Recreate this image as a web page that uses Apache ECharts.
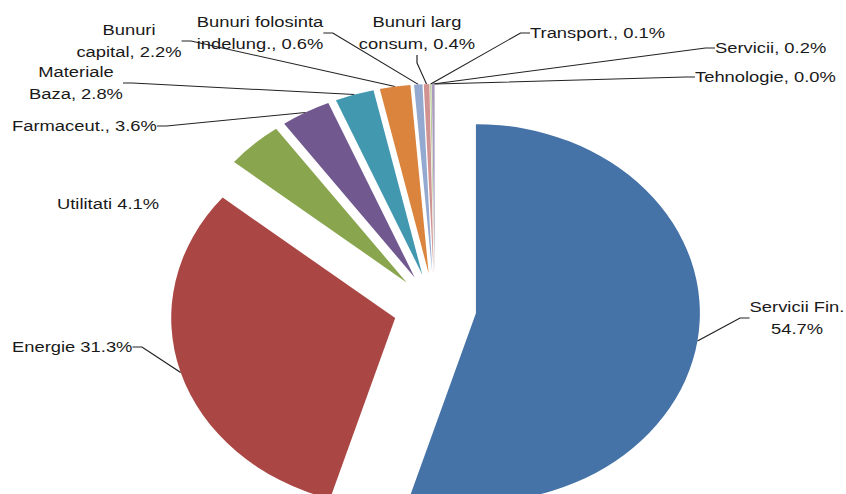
<!DOCTYPE html>
<html>
<head>
<meta charset="utf-8">
<script src="https://cdn.jsdelivr.net/npm/echarts@6/dist/echarts.min.js"></script>
<style>
html,body{margin:0;padding:0;background:#fff;overflow:hidden}
/* the original picture is stretched sideways, so the whole chart is too */
#main{width:714px;height:494px;transform:scaleX(1.185);transform-origin:0 0}
</style>
</head>
<body>
<div id="main"></div>
<script>
var SX = 1.185;

// sectoare si ponderi (%)
var sectors = ['Servicii Fin.', 'Energie', 'Utilitati', 'Farmaceut.', 'Materiale Baza', 'Bunuri capital',
  'Bunuri folosinta indelung.', 'Bunuri larg consum', 'Transport.', 'Servicii', 'Tehnologie'];
var shares = [54.7, 31.3, 4.1, 3.6, 2.8, 2.2, 0.6, 0.4, 0.1, 0.2, 0.0];
// textul etichetelor, cu ruperile de rand din original
var labelNames = ['Servicii Fin.', 'Energie', 'Utilitati', 'Farmaceut.', 'Materiale\nBaza', 'Bunuri\ncapital',
  'Bunuri folosinta\nindelung.', 'Bunuri larg\nconsum', 'Transport.', 'Servicii', 'Tehnologie'];
var labelSeps = ['\n', ' ', ' ', ', ', ', ', ', ', ', ', ', ', ', ', ', ', ', '];

var colors = ['#4572A7', '#AA4643', '#89A54E', '#71588F', '#4198AF', '#DB843D',
  '#93A9CF', '#D19392', '#B9CD96', '#A99BBD', '#91C3D5'];

// label anchor on screen: x, y (middle), align
var labelPos = [
  [797, 318, 'center'],
  [12, 347, 'left'],
  [57, 204, 'left'],
  [12, 126, 'left'],
  [76, 83, 'center'],
  [129, 41, 'center'],
  [260, 33, 'center'],
  [417, 33, 'center'],
  [530, 33, 'left'],
  [715, 48, 'left'],
  [695, 77, 'left']
];

var R = 189, EXPLODE = 35;

var myChart = echarts.init(document.getElementById('main'), null, { renderer: 'svg' });

var option = {
  animation: false,
  series: [{
    // exploded slices
    type: 'pie',
    center: [367, 308],
    radius: R,
    startAngle: 90,
    clockwise: true,
    selectedMode: 'multiple',
    selectedOffset: EXPLODE,
    silent: true,
    itemStyle: { borderWidth: 0 },
    label: { show: false },
    labelLine: { show: false },
    data: sectors.map(function (name, i) {
      return { name: name, value: shares[i], selected: true, itemStyle: { color: colors[i] } };
    })
  }, {
    // invisible pie whose rim runs through the exploded rims: carries labels + leader lines
    type: 'pie',
    center: [367, 308],
    radius: R + EXPLODE,
    startAngle: 90,
    clockwise: true,
    silent: true,
    avoidLabelOverlap: false,
    itemStyle: { color: 'rgba(0,0,0,0)', borderWidth: 0 },
    label: {
      show: true,
      position: 'outside',
      fontFamily: 'Liberation Sans',
      fontSize: 15.5,
      lineHeight: 22,
      color: '#1a1a1a',
      formatter: function (p) {
        return labelNames[p.dataIndex] + labelSeps[p.dataIndex] + shares[p.dataIndex].toFixed(1) + '%';
      }
    },
    labelLine: {
      show: true,
      length: 10,
      length2: 8,
      lineStyle: { color: '#222', width: 1 }
    },
    labelLayout: function (p) {
      var lp = labelPos[p.dataIndex];
      return {
        x: lp[0] / SX,
        y: lp[1],
        align: lp[2],
        verticalAlign: 'middle',
        hideOverlap: false
      };
    },
    data: sectors.map(function (name, i) {
      var d = { name: name, value: shares[i] };
      if (i === 2) d.labelLine = { show: false };
      return d;
    })
  }]
};
myChart.setOption(option);
</script>
</body>
</html>
